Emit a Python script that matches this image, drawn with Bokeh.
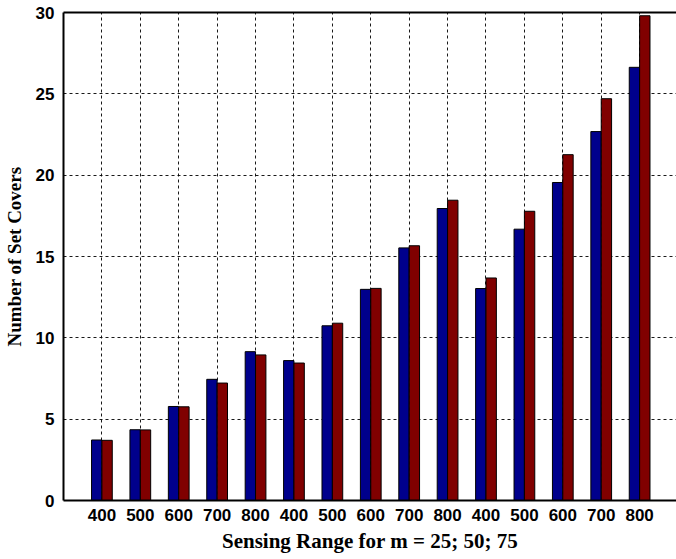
from bokeh.plotting import figure
from bokeh.models import ColumnDataSource, FixedTicker, LinearAxis, Range1d
from bokeh.transform import dodge
from bokeh.embed import file_html
from bokeh.resources import INLINE

labels = ["400", "500", "600", "700", "800",
          "400", "500", "600", "700", "800",
          "400", "500", "600", "700", "800"]
series_a = [3.72, 4.35, 5.78, 7.45, 9.15, 8.6, 10.74, 12.98, 15.53, 17.95,
            13.03, 16.68, 19.55, 22.68, 26.63]
series_b = [3.70, 4.34, 5.76, 7.22, 8.95, 8.45, 10.9, 13.04, 15.66, 18.46,
            13.68, 17.78, 21.26, 24.70, 29.8]

xs = list(range(1, len(labels) + 1))
src = ColumnDataSource(dict(x=xs, a=series_a, b=series_b))

p = figure(width=676, height=559, output_backend="svg", toolbar_location=None,
           x_range=Range1d(0, 15.96), y_range=Range1d(0, 30),
           min_border_left=0, min_border_right=0, min_border_top=0,
           min_border_bottom=0)
p.outline_line_color = None
p.background_fill_color = "white"
p.border_fill_color = "white"

bar_w = 0.27
p.vbar(x=dodge("x", -0.135, range=p.x_range), top="a", width=bar_w, source=src,
       fill_color="#00008C", line_color="black", line_width=1)
p.vbar(x=dodge("x", 0.135, range=p.x_range), top="b", width=bar_w, source=src,
       fill_color="#800000", line_color="black", line_width=1)

p.xaxis.ticker = FixedTicker(ticks=xs)
p.xaxis.major_label_overrides = {x: l for x, l in zip(xs, labels)}
p.yaxis.ticker = FixedTicker(ticks=[0, 5, 10, 15, 20, 25, 30])

for ax in (p.xaxis, p.yaxis):
    ax.axis_line_color = "black"
    ax.axis_line_width = 2
    ax.major_tick_line_color = None
    ax.minor_tick_line_color = None
    ax.major_tick_out = 0
    ax.major_tick_in = 0
    ax.minor_tick_out = 0
    ax.major_label_text_font = "Liberation Sans"
    ax.major_label_text_font_style = "bold"
    ax.major_label_text_font_size = "17px"
    ax.major_label_text_color = "black"
    ax.axis_label_text_font = "Liberation Serif"
    ax.axis_label_text_font_style = "bold"
    ax.axis_label_text_color = "black"

p.xaxis.axis_label = "Sensing Range for m = 25; 50; 75"
p.yaxis.axis_label = "Number of Set Covers"
p.xaxis.axis_label_text_font_size = "21px"
p.yaxis.axis_label_text_font_size = "19px"
p.xaxis.major_label_standoff = 8
p.yaxis.major_label_standoff = 9
p.xaxis.axis_label_standoff = 5
p.yaxis.axis_label_standoff = 8

top_axis = LinearAxis(major_tick_line_color=None, minor_tick_line_color=None,
                      major_tick_out=0, minor_tick_out=0, major_label_standoff=0,
                      major_label_text_font_size="0px", axis_line_width=2,
                      axis_line_color="black", ticker=FixedTicker(ticks=[]))
p.add_layout(top_axis, "above")

p.min_border_left = 63
p.min_border_top = 12
p.min_border_bottom = 59

for g in (p.xgrid, p.ygrid):
    g.grid_line_color = "black"
    g.grid_line_dash = "3 3"
    g.grid_line_width = 1
    g.grid_line_alpha = 0.9

open("out.html", "w").write(file_html(p, INLINE))
